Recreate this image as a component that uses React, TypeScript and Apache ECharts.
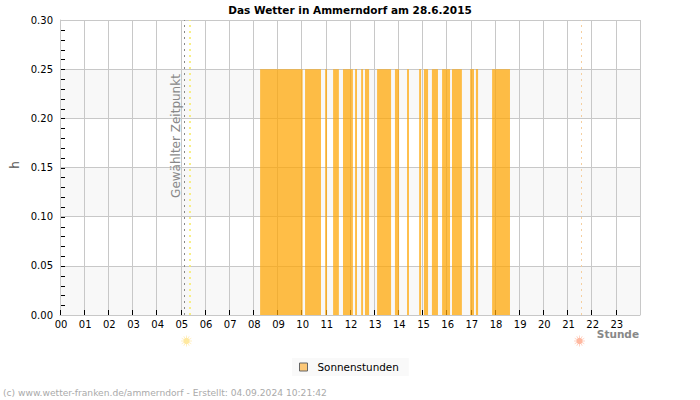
import React, { useEffect, useRef } from "react";
import * as echarts from "echarts";

const titleText = "Das Wetter in Ammerndorf am 28.6.2015";
const seriesName = "Sonnenstunden";
const sunStarts = [8.28, 10.14, 10.97, 11.30, 11.71, 12.21, 12.46, 12.62, 13.12, 13.86, 14.36, 14.86, 15.06, 15.39, 15.81, 16.22, 16.97, 17.21, 17.88];
const sunEnds = [10.04, 10.80, 11.05, 11.54, 12.12, 12.29, 12.54, 12.79, 13.70, 14.03, 14.44, 14.94, 15.23, 15.64, 16.14, 16.63, 17.13, 17.30, 18.62];
const sunValue = 0.25;
const selectedTime = 5.16;
const sunrise = 5.35;
const sunset = 21.55;
const yTickValues = [
  0.01, 0.02, 0.03, 0.04, 0.05, 0.06, 0.07, 0.08, 0.09, 0.1, 0.11, 0.12, 0.13, 0.14, 0.15,
  0.16, 0.17, 0.18, 0.19, 0.2, 0.21, 0.22, 0.23, 0.24, 0.25, 0.26, 0.27, 0.28, 0.29,
];
const FONT = "DejaVu Sans";

function sun(x: number, y: number, core: string, ray: string) {
  const rays: any[] = [];
  for (let i = 0; i < 12; i++) {
    const a = (i * Math.PI) / 6;
    rays.push({
      type: "line",
      z: 10,
      shape: { x1: x + 3 * Math.cos(a), y1: y + 3 * Math.sin(a), x2: x + 5.5 * Math.cos(a), y2: y + 5.5 * Math.sin(a) },
      style: { stroke: ray, lineWidth: 1 },
      silent: true,
    });
  }
  return [...rays, { type: "circle", z: 11, shape: { cx: x, cy: y, r: 3.2 }, style: { fill: core }, silent: true }];
}

export default function App() {
  const ref = useRef<HTMLDivElement>(null);
  useEffect(() => {
    const chart = echarts.init(ref.current!, null, { renderer: "svg" });
    chart.setOption({
      animation: false,
      backgroundColor: "#fff",
      textStyle: { fontFamily: FONT },
      title: {
        text: titleText,
        left: 345,
        top: -1,
        textAlign: "center",
        textStyle: { fontFamily: FONT, fontSize: 10.5, fontWeight: "bold", color: "#000" },
      },
      grid: { left: 60, right: 60, top: 20, bottom: 85 },
      legend: {
        left: 292,
        top: 358,
        padding: [4, 10, 4, 7],
        backgroundColor: "#f9f9f9",
        itemWidth: 8,
        itemHeight: 8,
        textStyle: { fontFamily: FONT, fontSize: 10.4, color: "#000", padding: [0, 0, 0, 5] },
        data: [{ name: seriesName, icon: "rect", itemStyle: { color: "#fdc877", borderColor: "#666", borderWidth: 1 } }],
      },
      xAxis: {
        type: "value",
        min: 0,
        max: 24,
        interval: 1,
        axisLine: { show: true, lineStyle: { color: "#c8c8c8" } },
        axisTick: { show: true, inside: true, length: 5, lineStyle: { color: "#000" } },
        axisLabel: {
          fontFamily: FONT,
          fontSize: 10,
          color: "#000",
          margin: 4,
          padding: [0, 0, 0, 2],
          showMaxLabel: false,
          formatter: (v: number) => String(v).padStart(2, "0"),
        },
        splitLine: { show: true, lineStyle: { color: "#c8c8c8", width: 1 } },
      },
      yAxis: {
        type: "value",
        min: 0,
        max: 0.3,
        interval: 0.05,
        axisLine: { show: true, lineStyle: { color: "#c8c8c8" } },
        axisTick: { show: false },
        axisLabel: { fontFamily: FONT, fontSize: 10, color: "#000", margin: 7, padding: [0, 0, 2, 0], formatter: (v: number) => v.toFixed(2) },
        splitLine: { show: true, lineStyle: { color: "#c8c8c8", width: 1 } },
        splitArea: { show: true, areaStyle: { color: ["#f8f8f8", "#ffffff"] } },
      },
      series: [
        {
          name: seriesName,
          type: "custom",
          encode: { x: [0, 1], y: 2 },
          data: sunStarts.map((s, i) => [s, sunEnds[i], sunValue]),
          renderItem: (_p: any, api: any) => {
            const a = api.coord([api.value(0), api.value(2)]);
            const b = api.coord([api.value(1), 0]);
            return {
              type: "rect",
              shape: { x: a[0], y: a[1], width: b[0] - a[0], height: b[1] - a[1] },
              style: { fill: "#ffa500", opacity: 0.72 },
            };
          },
          markLine: {
            silent: true,
            symbol: "none",
            label: { show: false },
            data: [
              { xAxis: selectedTime, lineStyle: { color: "#888", type: [2, 4], width: 1 } },
              { xAxis: sunrise, lineStyle: { color: "#f7ec6a", type: [2, 4], width: 1.6 } },
              { xAxis: sunset, lineStyle: { color: "#f5cfa0", type: [2, 4], width: 1 } },
            ],
          },
        },
        {
          name: "yTicks",
          type: "custom",
          silent: true,
          encode: { x: 0, y: 1 },
          data: yTickValues.map((v) => [0, v]),
          renderItem: (_p: any, api: any) => {
            const c = api.coord([0, api.value(1)]);
            const y = Math.round(c[1]) + 0.5;
            return {
              type: "line",
              shape: { x1: c[0] + 1, y1: y, x2: c[0] + 5, y2: y },
              style: { stroke: "#000", lineWidth: 1 },
            };
          },
        },
      ],
      graphic: [
        {
          type: "text",
          z: 20,
          x: 176,
          y: 136,
          rotation: Math.PI / 2,
          style: { text: "Gewählter Zeitpunkt", fill: "#888", font: `12px "${FONT}"`, align: "center", verticalAlign: "middle" },
          silent: true,
        },
        {
          type: "text",
          z: 20,
          x: 15,
          y: 165,
          rotation: Math.PI / 2,
          style: { text: "h", fill: "#555", font: `12px "${FONT}"`, align: "center", verticalAlign: "middle" },
          silent: true,
        },
        {
          type: "text",
          z: 20,
          x: 639,
          y: 334,
          style: { text: "Stunde", fill: "#888", font: `bold 10.5px "${FONT}"`, align: "right", verticalAlign: "middle" },
          silent: true,
        },
        {
          type: "text",
          z: 20,
          x: 3,
          y: 393,
          style: { text: "(c) www.wetter-franken.de/ammerndorf - Erstellt: 04.09.2024 10:21:42", fill: "#aaa", font: `9.15px "${FONT}"`, align: "left", verticalAlign: "middle" },
          silent: true,
        },
        ...sun(186.5, 341, "#ffe9a0", "#fff0c4"),
        ...sun(579.5, 341, "#ffb8a0", "#ffd5c6"),
      ],
    });
    return () => chart.dispose();
  }, []);
  return <div ref={ref} style={{ width: 700, height: 400, position: "absolute", left: 0, top: 0 }} />;
}
